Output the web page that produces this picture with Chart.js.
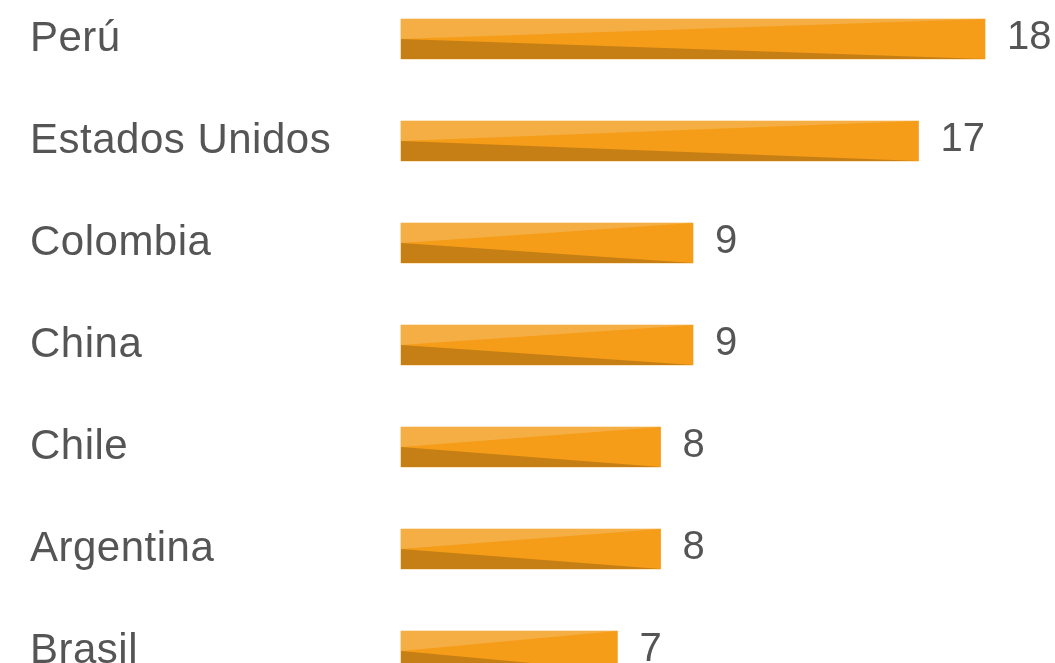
<!DOCTYPE html>
<html>
<head>
<meta charset="utf-8">
<script src="https://cdn.jsdelivr.net/npm/chart.js@4"></script>
<style>
  html, body { margin: 0; padding: 0; background: #fff; overflow: hidden; }
  #wrap { width: 1055px; height: 663px; position: relative; }
</style>
</head>
<body>
<div id="wrap"><canvas id="myChart"></canvas></div>
<script>
// Datos
const paises = ['Perú', 'Estados Unidos', 'Colombia', 'China', 'Chile', 'Argentina', 'Brasil'];
const valores = [18, 17, 9, 9, 8, 8, 7];
// longitud de barra
const barras = [18, 15.95, 9, 9, 8, 8, 6.67];

const fuente = '"Liberation Sans", Arial, Helvetica, sans-serif';
const gris = '#555555';

// Sombreado de las barras (triángulo claro arriba, oscuro abajo)
const sombreado = {
    id: 'sombreado',
    afterDatasetsDraw: function(chart) {
        const ctx = chart.ctx;
        const meta = chart.getDatasetMeta(0);
        ctx.save();
        meta.data.forEach(function(bar) {
            const p = bar.getProps(['x', 'y', 'base', 'height'], true);
            const top = p.y - p.height / 2;
            const bottom = p.y + p.height / 2;
            ctx.fillStyle = '#f5ae43';
            ctx.beginPath();
            ctx.moveTo(p.base, top);
            ctx.lineTo(p.base, p.y);
            ctx.lineTo(p.x, top);
            ctx.closePath();
            ctx.fill();
            ctx.fillStyle = '#c57f14';
            ctx.beginPath();
            ctx.moveTo(p.base, p.y);
            ctx.lineTo(p.base, bottom);
            ctx.lineTo(p.x, bottom);
            ctx.closePath();
            ctx.fill();
        });
        ctx.restore();
    },
    afterDraw: function(chart) {
        const ctx = chart.ctx;
        const meta = chart.getDatasetMeta(0);
        ctx.save();
        ctx.fillStyle = gris;
        ctx.textBaseline = 'alphabetic';
        ctx.textAlign = 'left';
        meta.data.forEach(function(bar, i) {
            // nombre del país
            ctx.font = '42px ' + fuente;
            ctx.letterSpacing = '0.5px';
            ctx.fillText(paises[i], 30, bar.y + 12);
            // valor
            ctx.font = '40px ' + fuente;
            ctx.letterSpacing = '0px';
            ctx.fillText(String(valores[i]), bar.x + 22, bar.y + 10);
        });
        ctx.restore();
    }
};

const ctx = document.getElementById('myChart');

new Chart(ctx, {
    type: 'bar',
    data: {
        labels: paises,
        datasets: [{
            data: barras,
            backgroundColor: '#f59c18',
            borderWidth: 0,
            barThickness: 40,
            clip: false
        }]
    },
    options: {
        indexAxis: 'y',
        responsive: true,
        maintainAspectRatio: false,
        animation: false,
        layout: {
            padding: { left: 401, right: 70, top: 39, bottom: 12 }
        },
        scales: {
            x: { display: false, min: 0, max: 18 },
            y: { display: false, offset: false }
        },
        plugins: {
            legend: { display: false },
            tooltip: { enabled: false }
        }
    },
    plugins: [sombreado]
});
</script>
</body>
</html>
